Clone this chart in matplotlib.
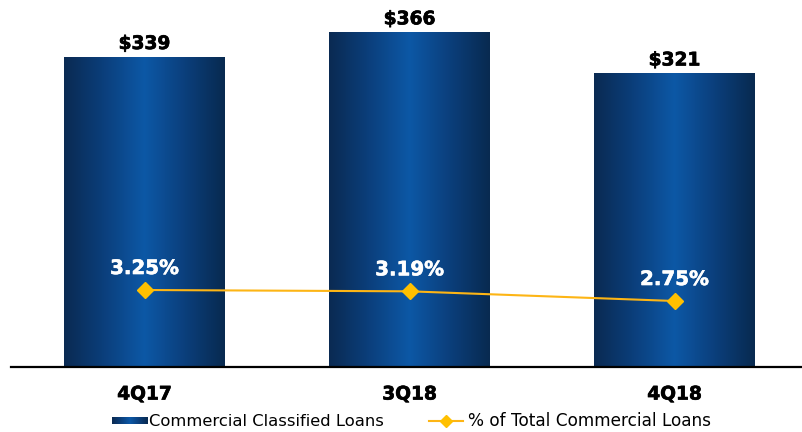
import numpy as np
import matplotlib
matplotlib.use("Agg")
import matplotlib.pyplot as plt
from matplotlib.colors import LinearSegmentedColormap
from matplotlib.lines import Line2D
import matplotlib.patheffects as pe

# Data
quarters = ["4Q17", "3Q18", "4Q18"]
classified_loans = [339, 366, 321]          # $ millions
pct_of_commercial = [3.25, 3.19, 2.75]      # % of total commercial loans
bar_labels = ["$339", "$366", "$321"]
pct_labels = ["3.25%", "3.19%", "2.75%"]

W, H = 802, 432
DPI = 100
fig = plt.figure(figsize=(W / DPI, H / DPI), dpi=DPI)
fig.patch.set_facecolor("white")

# axes placement in pixels
ax_left, ax_right = 11, 802
ax_bottom_px, ax_top_px = 367, 1.8
ax = fig.add_axes([ax_left / W, (H - ax_bottom_px) / H,
                   (ax_right - ax_left) / W, (ax_bottom_px - ax_top_px) / H])

bar_cmap = LinearSegmentedColormap.from_list(
    "navy_sheen", ["#0a2a52", "#0b3f7c", "#0d58a6", "#0b3f7c", "#082a50"])
grad = np.linspace(0, 1, 256).reshape(1, -1)

x = np.arange(len(quarters))
bar_w = 0.6075
xlim = (-0.504, 2.481)
ylim = (0, 400)

heavy = [pe.withStroke(linewidth=0.5, foreground="black")]
heavy_white = [pe.withStroke(linewidth=0.4, foreground="white")]

bars = ax.bar(x, classified_loans, width=bar_w, color="none", edgecolor="none", zorder=2)
for rect in bars:
    x0, y0 = rect.get_x(), rect.get_y()
    ax.imshow(grad, cmap=bar_cmap, aspect="auto", interpolation="bicubic",
              extent=(x0, x0 + rect.get_width(), y0, y0 + rect.get_height()),
              zorder=2)

for xi, v, lab in zip(x, classified_loans, bar_labels):
    ax.annotate(lab, (xi, v), xytext=(0, 6.1), textcoords="offset points",
                ha="center", va="baseline", fontsize=13.4, fontweight="bold",
                color="black", path_effects=heavy)

ax.set_xlim(*xlim)
ax.set_ylim(*ylim)
ax.set_yticks([])
ax.set_xticks([])
for s in ["top", "right", "left"]:
    ax.spines[s].set_visible(False)
ax.spines["bottom"].set_linewidth(1.6)
ax.spines["bottom"].set_color("black")
ax.patch.set_alpha(0)

for xi, q in zip(x, quarters):
    ax.annotate(q, (xi, 0), xytext=(0, -32.5), textcoords="offset pixels",
                ha="center", va="baseline", fontsize=13.4, fontweight="bold",
                color="black", annotation_clip=False, path_effects=heavy)

# secondary axis for the percentage line
ax2 = ax.twinx()
ax2.set_ylim(-0.25, 16.35)
ax2.set_xlim(*xlim)
ax2.axis("off")
line_color = "#fdb515"
ax2.plot(x, pct_of_commercial, color=line_color, lw=1.5, marker="D",
         markersize=8.0, markerfacecolor="#ffc000", markeredgecolor="#ffc000",
         zorder=3)
for xi, v, lab in zip(x, pct_of_commercial, pct_labels):
    ax2.annotate(lab, (xi, v), xytext=(0, 11.5), textcoords="offset points",
                 ha="center", va="baseline", fontsize=14.3, fontweight="bold",
                 color="white", path_effects=heavy_white)

# legend
leg_y = (H - 421) / H
lax = fig.add_axes([111.7 / W, (H - 424.3) / H, 35.3 / W, 7.6 / H])
lax.imshow(grad, cmap=bar_cmap, aspect="auto", interpolation="bicubic",
           extent=(0, 1, 0, 1))
lax.axis("off")
fig.text(149 / W, leg_y, "Commercial Classified Loans", fontsize=11.8,
         ha="left", va="center", color="black")
fig.add_artist(Line2D([429 / W, 463 / W], [leg_y, leg_y], transform=fig.transFigure,
                      color=line_color, lw=1.5))
fig.add_artist(Line2D([446 / W], [leg_y], transform=fig.transFigure, marker="D",
                      markersize=6.5, color="#ffc000", lw=0))
fig.text(468 / W, leg_y, "% of Total Commercial Loans", fontsize=12.2,
         ha="left", va="center", color="black")

fig.savefig("out.png", dpi=DPI, facecolor="white")
